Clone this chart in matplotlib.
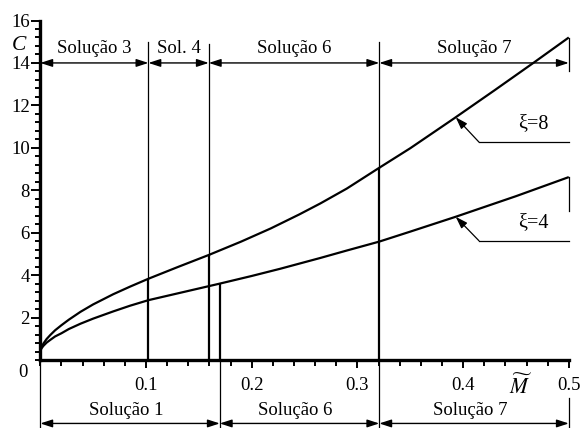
import numpy as np
import matplotlib
matplotlib.use("Agg")
import matplotlib.pyplot as plt

plt.rcParams["font.family"] = ["Liberation Serif", "DejaVu Serif"]
plt.rcParams["mathtext.fontset"] = "stix"

# Curve C(M~) for xi = 8
m_xi8 = [0.0, 0.001, 0.003, 0.006, 0.0095, 0.014, 0.02, 0.027, 0.038, 0.05,
         0.069, 0.085, 0.1023, 0.13, 0.1594, 0.19, 0.218, 0.245, 0.265, 0.29,
         0.3207, 0.35, 0.391, 0.43, 0.467, 0.5]
c_xi8 = [0.40, 0.59, 0.78, 0.99, 1.18, 1.40, 1.64, 1.90, 2.27, 2.62,
         3.10, 3.46, 3.83, 4.38, 4.95, 5.58, 6.20, 6.86, 7.38, 8.08,
         9.06, 9.98, 11.37, 12.72, 14.02, 15.20]

# Curve C(M~) for xi = 4
m_xi4 = [0.0, 0.001, 0.003, 0.006, 0.0095, 0.014, 0.02, 0.027, 0.038, 0.05,
         0.069, 0.085, 0.1023, 0.13, 0.1594, 0.1698, 0.2, 0.227, 0.265, 0.29,
         0.3207, 0.35, 0.393, 0.45, 0.5]
c_xi4 = [0.40, 0.54, 0.67, 0.82, 0.95, 1.11, 1.26, 1.46, 1.71, 1.95,
         2.29, 2.56, 2.82, 3.14, 3.48, 3.60, 3.96, 4.30, 4.81, 5.16,
         5.58, 6.05, 6.75, 7.72, 8.62]

# Solution zones along the xi = 8 curve (top) and the xi = 4 curve (bottom)
top_bounds = [0.0, 0.1023, 0.1594, 0.3207, 0.5]
top_labels = ["Solução 3", "Sol. 4", "Solução 6", "Solução 7"]
bottom_bounds = [0.0, 0.1698, 0.3207, 0.5]
bottom_labels = ["Solução 1", "Solução 6", "Solução 7"]

x_ticks = [0.1, 0.2, 0.3, 0.4, 0.5]
x_tick_labels = ["0.1", "0.2", "0.3", "0.4", "0.5"]
y_ticks = [2, 4, 6, 8, 10, 12, 14, 16]
y_tick_labels = ["2", "4", "6", "8", "10", "12", "14", "16"]

FS = 13.5
fig = plt.figure(figsize=(5.8, 4.28), dpi=100)
ax = fig.add_axes([40.3 / 580, 68 / 428, 528.5 / 580, 339.5 / 428])
ax.set_xlim(0, 0.5)
ax.set_ylim(0, 16)

for s in ("top", "right"):
    ax.spines[s].set_visible(False)
for s in ("left", "bottom"):
    ax.spines[s].set_linewidth(2.4)

ax.set_xticks(x_ticks, labels=x_tick_labels, fontsize=FS)
ax.set_yticks(y_ticks, labels=y_tick_labels, fontsize=FS)
ax.set_xticks(np.arange(0.0, 0.5001, 0.02), minor=True)
ax.set_yticks(np.arange(0.0, 16.001, 0.4), minor=True)
ax.tick_params(axis="x", which="major", direction="out", length=5.5, width=1.4, pad=7)
ax.tick_params(axis="x", which="minor", direction="out", length=4, width=1.4)
ax.tick_params(axis="y", which="major", direction="out", length=6.5, width=1.4, pad=1)
ax.tick_params(axis="y", which="minor", direction="out", length=3.5, width=1.4)

# Curves
ax.plot(m_xi8, c_xi8, color="black", lw=1.6, solid_capstyle="butt",
        solid_joinstyle="round", clip_on=False)
ax.plot(m_xi4, c_xi4, color="black", lw=1.6, solid_capstyle="butt",
        solid_joinstyle="round", clip_on=False)

# Bold verticals from the axis up to the curves at the zone limits
c8 = lambda m: float(np.interp(m, m_xi8, c_xi8))
c4 = lambda m: float(np.interp(m, m_xi4, c_xi4))
for m, top in [(top_bounds[1], c8(top_bounds[1])), (top_bounds[2], c8(top_bounds[2])),
               (bottom_bounds[1], c4(bottom_bounds[1])), (top_bounds[3], c8(top_bounds[3]))]:
    ax.plot([m, m], [0, top], color="black", lw=1.6, solid_capstyle="butt")

# Thin extension lines
thin = [
    (top_bounds[1], c8(top_bounds[1]), 14.97),
    (top_bounds[2], c8(top_bounds[2]), 14.9),
    (top_bounds[3], c8(top_bounds[3]), 14.97),
    (top_bounds[3], 0, -3.25),
    (bottom_bounds[1], 0, -3.25),
    (0.0, 0, -3.25),
    (0.5, 13.6, 15.17),
    (0.5, 7.0, c4(0.5)),
    (0.5, -1.8, -3.25),
]
for m, y0, y1 in thin:
    ax.plot([m, m], [y0, y1], color="black", lw=0.9, clip_on=False)

arrow_kw = dict(arrowstyle="<|-|>,head_length=0.4,head_width=0.13",
                color="black", lw=1.0, mutation_scale=18, shrinkA=0, shrinkB=0)

# Top zone row at C = 14
for a, b, lab in zip(top_bounds[:-1], top_bounds[1:], top_labels):
    ax.annotate("", xy=(b, 14), xytext=(a, 14), arrowprops=arrow_kw, annotation_clip=False)
    ax.text((a + b) / 2, 14.48, lab, ha="center", va="baseline", fontsize=FS)

# Bottom zone row below the axis
for a, b, lab in zip(bottom_bounds[:-1], bottom_bounds[1:], bottom_labels):
    ax.annotate("", xy=(b, -2.99), xytext=(a, -2.99), arrowprops=arrow_kw, annotation_clip=False)
    ax.text((a + b) / 2 - 0.004, -2.6, lab, ha="center", va="baseline", fontsize=FS)

# Curve labels with leaders
lead_kw = dict(arrowstyle="-|>,head_length=0.45,head_width=0.15",
               color="black", lw=0.9, mutation_scale=16, shrinkA=0, shrinkB=0)
for tip_m, tip_c, elbow_m, elbow_c, txt, ty in [
        (0.393, c8(0.393), 0.415, 10.27, r"ξ=8", 11.15),
        (0.393, c4(0.393), 0.415, 5.62, r"ξ=4", 6.5)]:
    ax.annotate("", xy=(tip_m, tip_c), xytext=(elbow_m, elbow_c), arrowprops=lead_kw)
    ax.plot([elbow_m, 0.5], [elbow_c, elbow_c], color="black", lw=0.9, clip_on=False)
    ax.text(0.4667, ty, txt, ha="center", va="center", fontsize=FS + 1)

# Axis titles and origin label
ax.text(-0.020, 14.8, "C", ha="center", va="center", fontsize=FS + 2, style="italic",
        clip_on=False)
ax.text(0.4545, -1.25, r"$\widetilde{M}$", ha="center", va="center", fontsize=FS + 2)
ax.text(-0.016, -0.6, "0", ha="center", va="center", fontsize=FS)

fig.savefig("out.png", dpi=100)
